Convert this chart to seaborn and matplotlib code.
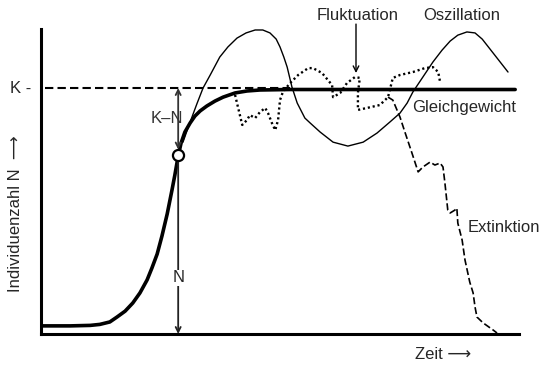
import numpy as np
import seaborn as sns
import matplotlib.pyplot as plt

# time axis 0..100, population N with carrying capacity K = 100
K = 100.0

# logistic growth (thick curve) -> levels off at equilibrium
logistic_t = [0, 6.1, 10.3, 12.3, 14.4, 15.9, 17.6, 19.2, 20.7, 22.2, 23.2, 24.3,
              25.3, 26.4, 27.4, 28.0, 28.7, 29.3, 30.1, 31.2, 32.2, 33.3, 34.7,
              36.4, 38.1, 40.6, 43.1, 45.8, 52.1, 99.2]
logistic_n = [3.3, 3.3, 3.5, 3.9, 4.9, 6.9, 9.3, 12.6, 16.7, 22.0, 26.8, 32.5,
              39.8, 48.8, 58.5, 64.6, 72.4, 77.6, 82.1, 85.8, 88.6, 90.7, 92.7,
              94.7, 96.3, 98.0, 98.8, 99.2, 99.4, 99.4]

# oscillation (thin line)
osc_t = [29.7, 31.2, 32.6, 33.9, 35.4, 37.4, 39.1, 41.0, 42.9, 44.8, 46.4, 47.9,
         49.2, 50.0, 50.8, 51.5, 52.5, 53.6, 55.2, 56.3, 58.4, 61.1, 64.2, 67.4,
         70.3, 73.0, 75.1, 76.6, 77.8, 79.9, 82.0, 83.9, 85.6, 87.2, 89.1, 90.8,
         92.3, 94.6, 97.7]
osc_n = [78.0, 86.2, 93.5, 100.0, 105.3, 112.6, 116.7, 120.3, 122.4, 123.6, 123.6,
         122.4, 119.9, 116.7, 112.6, 108.5, 100.4, 93.9, 87.8, 85.8, 82.1, 78.0,
         76.4, 78.0, 81.7, 86.2, 89.8, 93.9, 98.4, 104.5, 110.6, 115.4, 119.1,
         121.5, 122.8, 122.4, 119.9, 114.2, 106.5]

# fluctuation (dotted)
fluc_t = [40.6, 41.2, 42.1, 43.1, 43.7, 44.8, 45.8, 46.9, 47.5, 48.3, 49.0, 49.6,
          50.0, 50.6, 52.1, 53.8, 55.9, 56.9, 58.8, 60.9, 61.1, 62.6, 64.0, 65.7,
          66.7, 66.3, 66.3, 68.2, 70.9, 72.6, 73.6, 75.1, 77.8, 80.3, 82.0, 83.1,
          83.5]
fluc_n = [97.2, 92.3, 85.0, 87.0, 89.0, 87.8, 90.2, 91.9, 89.8, 85.8, 82.9, 87.0,
          95.1, 98.4, 102.0, 105.3, 108.1, 108.1, 106.1, 101.2, 96.3, 98.0, 102.0,
          104.5, 104.1, 98.0, 91.1, 91.9, 93.1, 96.3, 104.1, 105.3, 106.5, 108.1,
          108.5, 106.5, 102.4]

# extinction (dashed)
ext_t = [72.6, 73.6, 75.1, 76.2, 77.6, 78.9, 79.9, 81.4, 82.4, 83.5, 84.1, 84.5,
         85.1, 85.6, 86.6, 87.0, 87.2, 88.1, 88.7, 89.7, 90.4, 90.8, 91.2, 92.5,
         94.6, 95.4]
ext_n = [96.3, 95.1, 88.2, 81.7, 73.6, 65.9, 67.9, 69.9, 68.7, 69.5, 67.9, 61.4,
         50.4, 49.2, 50.4, 51.2, 45.1, 38.2, 30.1, 21.1, 16.7, 11.0, 6.9, 4.5,
         1.6, 0.4]

# point on the curve where N and K-N are marked
mark_t, mark_n = 28.7, 72.8
fluc_arrow_t = 65.9

sns.set_style("white")
plt.rcParams['font.family'] = ['Liberation Sans', 'DejaVu Sans']

fig = plt.figure(figsize=(5.6, 3.67), dpi=100)
ax = fig.add_axes([41 / 560, 33 / 367, 478 / 560, 305 / 367])

# carrying capacity
ax.plot([0.8, 52.0], [K, K], color='black', lw=1.5, ls=(0, (4, 2)))

sns.lineplot(x=logistic_t, y=logistic_n, ax=ax, color='black', lw=2.6,
             sort=False, estimator=None)
sns.lineplot(x=osc_t, y=osc_n, ax=ax, color='black', lw=1.0,
             sort=False, estimator=None)
sns.lineplot(x=fluc_t, y=fluc_n, ax=ax, color='black', lw=1.7,
             ls=(0, (0.9, 1.2)), sort=False, estimator=None)
sns.lineplot(x=ext_t, y=ext_n, ax=ax, color='black', lw=1.2,
             ls=(0, (4.2, 1.8)), sort=False, estimator=None)

# arrows K-N and N
ax.annotate('', xy=(mark_t, K), xytext=(mark_t, mark_n + 2.2),
            arrowprops=dict(arrowstyle='<->', color='#333333', lw=1.3,
                            shrinkA=0, shrinkB=0, mutation_scale=9))
ax.annotate('', xy=(mark_t, 0), xytext=(mark_t, mark_n - 2.2),
            arrowprops=dict(arrowstyle='->', color='#222222', lw=1.3,
                            shrinkA=0, shrinkB=0, mutation_scale=9))
ax.plot([mark_t], [mark_n], marker='o', ms=8, mfc='white', mec='black',
        mew=1.6, zorder=5)

fs = 12
ax.text(26.4, 87.8, 'K–N', ha='center', va='center', fontsize=fs, color='#333333')
ax.text(mark_t, 22.8, 'N', ha='center', va='center', fontsize=fs,
        bbox=dict(facecolor='white', edgecolor='none', pad=0.5))
ax.text(-4.2, K, 'K -', ha='center', va='center', fontsize=fs)

# labels
ax.text(66.3, 129.3, 'Fluktuation', ha='center', va='center', fontsize=fs)
ax.text(88.1, 129.3, 'Oszillation', ha='center', va='center', fontsize=fs)
ax.annotate('', xy=(fluc_arrow_t, 106.1), xytext=(fluc_arrow_t, 126.0),
            arrowprops=dict(arrowstyle='->', color='black', lw=1.0,
                            shrinkA=0, shrinkB=0, mutation_scale=10))
ax.text(77.6, 91.9, 'Gleichgewicht', ha='left', va='center', fontsize=fs)
ax.text(89.3, 43.1, 'Extinktion', ha='left', va='center', fontsize=fs)
ax.text(78.2, -8.5, 'Zeit ⟶', ha='left', va='center', fontsize=fs)
ax.text(-5.4, 48.8, 'Individuenzahl N  ⟶', ha='center', va='center',
        rotation=90, fontsize=fs)

ax.set_xlim(0, 100)
ax.set_ylim(0, 124)
ax.set_xticks([])
ax.set_yticks([])
sns.despine(ax=ax)
for side in ['left', 'bottom']:
    ax.spines[side].set_linewidth(2.2)
    ax.spines[side].set_color('black')

fig.savefig('out.png', dpi=100)
